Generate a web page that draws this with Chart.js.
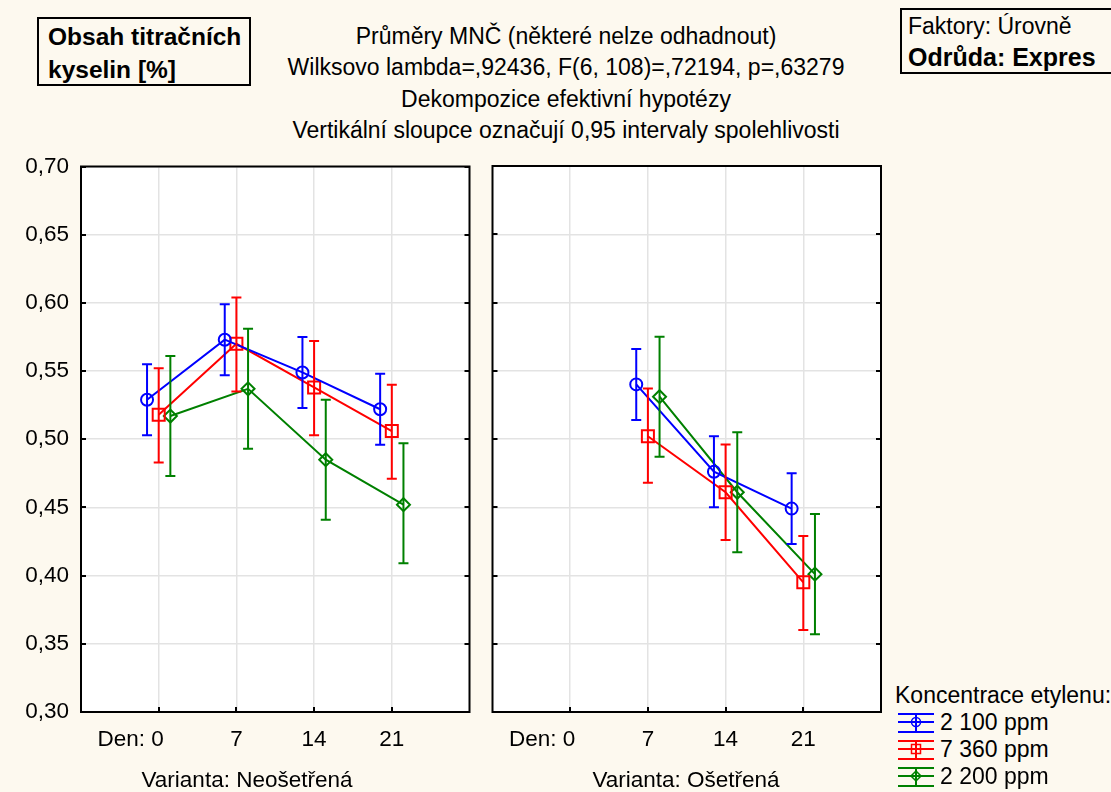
<!DOCTYPE html>
<html lang="cs">
<head>
  <meta charset="UTF-8" />
  <title>Obsah titračních kyselin</title>
  <script src="https://cdn.jsdelivr.net/npm/chart.js"></script>
  <style>
    body { margin: 0; }
    #page {
      position: relative; width: 1111px; height: 792px; overflow: hidden;
      background: #fdf9ef; font-family: "Liberation Sans", Arial, sans-serif; color: #000;
    }
    canvas { position: absolute; }
    .title { position: absolute; left: 216px; top: 21px; width: 700px; text-align: center;
      font-size: 23px; line-height: 31.3px; white-space: nowrap; }
    .box { position: absolute; border: 2px solid #000; box-sizing: border-box; white-space: nowrap; }
    .ybox { left: 37px; top: 17px; width: 214px; height: 69px; padding: 1px 0 0 9px;
      font-weight: bold; font-size: 24.5px; line-height: 33px; }
    .fbox { left: 900px; top: 8px; width: 230px; height: 66px; padding: 1px 0 0 6px;
      font-size: 23px; line-height: 31px; }
    .fbox b { font-size: 25px; }
    .panel-title { position: absolute; top: 767px; font-size: 22.5px; line-height: 26px;
      white-space: nowrap; transform: translateX(-50%); }
    .legend { position: absolute; left: 895px; top: 682px; font-size: 23px; white-space: nowrap; }
    .legend .row { height: 27px; display: flex; align-items: center; }
    .legend .head { height: 27px; line-height: 27px; }
    .legend svg { margin: 0 5px 0 2px; }
  </style>
</head>
<body>
<div id="page">
  <div class="title">
    Průměry MNČ (některé nelze odhadnout)<br>
    Wilksovo lambda=,92436, F(6, 108)=,72194, p=,63279<br>
    Dekompozice efektivní hypotézy<br>
    Vertikální sloupce označují 0,95 intervaly spolehlivosti
  </div>
  <div class="box ybox">Obsah titračních<br>kyselin [%]</div>
  <div class="box fbox">Faktory: Úrovně<br><b>Odrůda: Expres</b></div>

  <canvas id="left" width="480" height="651" style="left:0;top:141px"></canvas>
  <canvas id="right" width="410" height="642" style="left:482px;top:150px"></canvas>

  <div class="panel-title" id="titleLeft" style="left:247px"></div>
  <div class="panel-title" id="titleRight" style="left:686px"></div>

  <div class="legend" id="legend">
    <div class="head">Koncentrace etylenu:</div>
  </div>
</div>

<script>
  // tick labels and series
  const dayLabels = ['Den: 0', '7', '14', '21'];
  const seriesNames = ['2 100 ppm', '7 360 ppm', '2 200 ppm'];
  const panelTitles = ['Varianta: Neošetřená', 'Varianta: Ošetřená'];

  // Varianta: Neošetřená
  const blueL   = [0.529, 0.573, 0.549, 0.522];
  const blueLlo = [0.503, 0.547, 0.523, 0.496];
  const blueLhi = [0.555, 0.599, 0.575, 0.548];
  const redL    = [0.518, 0.570, 0.538, 0.506];
  const redLlo  = [0.483, 0.535, 0.503, 0.471];
  const redLhi  = [0.552, 0.604, 0.572, 0.540];
  const greenL  = [0.517, 0.537, 0.485, 0.452];
  const greenLlo = [0.473, 0.493, 0.441, 0.409];
  const greenLhi = [0.561, 0.581, 0.529, 0.497];

  // Varianta: Ošetřená (den 0 nelze odhadnout)
  const blueR   = [null, 0.540, 0.476, 0.449];
  const blueRlo = [null, 0.514, 0.450, 0.423];
  const blueRhi = [null, 0.566, 0.502, 0.475];
  const redR    = [null, 0.502, 0.461, 0.395];
  const redRlo  = [null, 0.468, 0.426, 0.360];
  const redRhi  = [null, 0.537, 0.496, 0.429];
  const greenR  = [null, 0.531, 0.461, 0.401];
  const greenRlo = [null, 0.487, 0.417, 0.357];
  const greenRhi = [null, 0.575, 0.505, 0.445];

  const colors = ['#0000ff', '#ff0000', '#008000'];
  const markers = ['circle', 'rect', 'rectRot'];
  const markerSize = [6, 8.5, 6.5];
  const shift = [-0.15, 0, 0.15];
  const tickFont = { family: 'Liberation Sans', size: 22.5 };

  function makeSets(means, los, his) {
    return means.map((m, s) => ({
      label: seriesNames[s],
      data: m.map((v, i) => ({ x: i + shift[s], y: v })),
      lo: los[s], hi: his[s],
      borderColor: colors[s],
      backgroundColor: 'rgba(0,0,0,0)',
      borderWidth: 2,
      pointStyle: markers[s],
      pointRadius: markerSize[s],
      pointBorderWidth: 2,
      pointBorderColor: colors[s],
      pointBackgroundColor: 'rgba(0,0,0,0)',
      tension: 0
    }));
  }

  const panelPlugin = {
    id: 'panel',
    beforeDraw(chart) {
      const a = chart.chartArea, ctx = chart.ctx;
      ctx.save();
      ctx.fillStyle = '#fff';
      ctx.fillRect(a.left, a.top, a.right - a.left, a.bottom - a.top);
      ctx.restore();
    },
    afterDatasetsDraw(chart) {
      const ctx = chart.ctx, xs = chart.scales.x, ys = chart.scales.y;
      ctx.save();
      ctx.lineWidth = 2;
      chart.data.datasets.forEach(ds => {
        ctx.strokeStyle = ds.borderColor;
        ds.data.forEach((p, i) => {
          if (p.y == null) return;
          const px = xs.getPixelForValue(p.x);
          const y1 = ys.getPixelForValue(ds.lo[i]);
          const y2 = ys.getPixelForValue(ds.hi[i]);
          ctx.beginPath();
          ctx.moveTo(px, y1); ctx.lineTo(px, y2);
          ctx.moveTo(px - 5, y1); ctx.lineTo(px + 5, y1);
          ctx.moveTo(px - 5, y2); ctx.lineTo(px + 5, y2);
          ctx.stroke();
        });
      });
      ctx.restore();
    },
    afterDraw(chart) {
      const a = chart.chartArea, ctx = chart.ctx, xs = chart.scales.x, ys = chart.scales.y;
      ctx.save();
      ctx.strokeStyle = '#000';
      ctx.lineWidth = 2;
      ctx.beginPath();
      ys.ticks.forEach(t => {
        const py = Math.round(ys.getPixelForValue(t.value));
        ctx.moveTo(a.left, py); ctx.lineTo(a.left + 5, py);
        ctx.moveTo(a.right, py); ctx.lineTo(a.right - 5, py);
      });
      xs.ticks.forEach(t => {
        const px = Math.round(xs.getPixelForValue(t.value));
        ctx.moveTo(px, a.bottom); ctx.lineTo(px, a.bottom - 5);
      });
      ctx.stroke();
      ctx.strokeRect(a.left, a.top, a.right - a.left, a.bottom - a.top);
      ctx.restore();
    }
  };

  // "Den:" hangs left of the 0 tick, so pad the first label on the right
  function dayTick(v) {
    const lab = dayLabels[v];
    if (lab == null) return '';
    return v === 0 ? lab + '         ' : lab;
  }

  function makeChart(id, sets, showY, padding) {
    return new Chart(document.getElementById(id), {
      type: 'line',
      data: { datasets: sets },
      options: {
        responsive: false,
        animation: false,
        layout: { padding: padding },
        plugins: { legend: { display: false }, tooltip: { enabled: false } },
        scales: {
          x: {
            type: 'linear', min: -1, max: 4,
            afterBuildTicks: s => { s.ticks = dayLabels.map((_, i) => ({ value: i })); },
            afterFit: s => { s.height = 80; },
            ticks: { callback: dayTick, color: '#000', padding: 14, maxRotation: 0, autoSkip: false, font: tickFont },
            grid: { color: '#e3e3e3', lineWidth: 1.5, drawTicks: false },
            border: { display: false }
          },
          y: {
            min: 0.30, max: 0.70,
            afterFit: s => { s.width = showY ? 81 : 0; },
            ticks: {
              display: showY, stepSize: 0.05, color: '#000', padding: 12,
              callback: v => v.toFixed(2).replace('.', ','),
              font: tickFont
            },
            grid: { color: '#e3e3e3', lineWidth: 1.5, drawTicks: false },
            border: { display: false }
          }
        }
      },
      plugins: [panelPlugin]
    });
  }

  makeChart('left',
    makeSets([blueL, redL, greenL], [blueLlo, redLlo, greenLlo], [blueLhi, redLhi, greenLhi]),
    true, { top: 7, right: 9, left: 0, bottom: 0 });
  makeChart('right',
    makeSets([blueR, redR, greenR], [blueRlo, redRlo, greenRlo], [blueRhi, redRhi, greenRhi]),
    false, { top: 16, right: 11, left: 10, bottom: 0 });

  document.getElementById('titleLeft').textContent = panelTitles[0];
  document.getElementById('titleRight').textContent = panelTitles[1];

  // legend
  const legend = document.getElementById('legend');
  const shapes = [
    '<circle cx="19" cy="11" r="4.5" fill="none" stroke-width="1.5"/>',
    '<rect x="14.5" y="6.5" width="9" height="9" fill="none" stroke-width="1.5"/>',
    '<path d="M19 6 L24 11 L19 16 L14 11 Z" fill="none" stroke-width="1.5"/>'
  ];
  seriesNames.forEach((name, s) => {
    const row = document.createElement('div');
    row.className = 'row';
    row.innerHTML =
      `<svg width="38" height="24" stroke="${colors[s]}">` +
      `<line x1="1" y1="3" x2="37" y2="3" stroke-width="2"/>` +
      `<line x1="1" y1="21" x2="37" y2="21" stroke-width="2"/>` +
      `<line x1="1" y1="11" x2="37" y2="11" stroke-width="2"/>` +
      `<line x1="19" y1="3" x2="19" y2="21" stroke-width="2"/>` +
      shapes[s] + `</svg><span>${name}</span>`;
    legend.appendChild(row);
  });
</script>
</body>
</html>
